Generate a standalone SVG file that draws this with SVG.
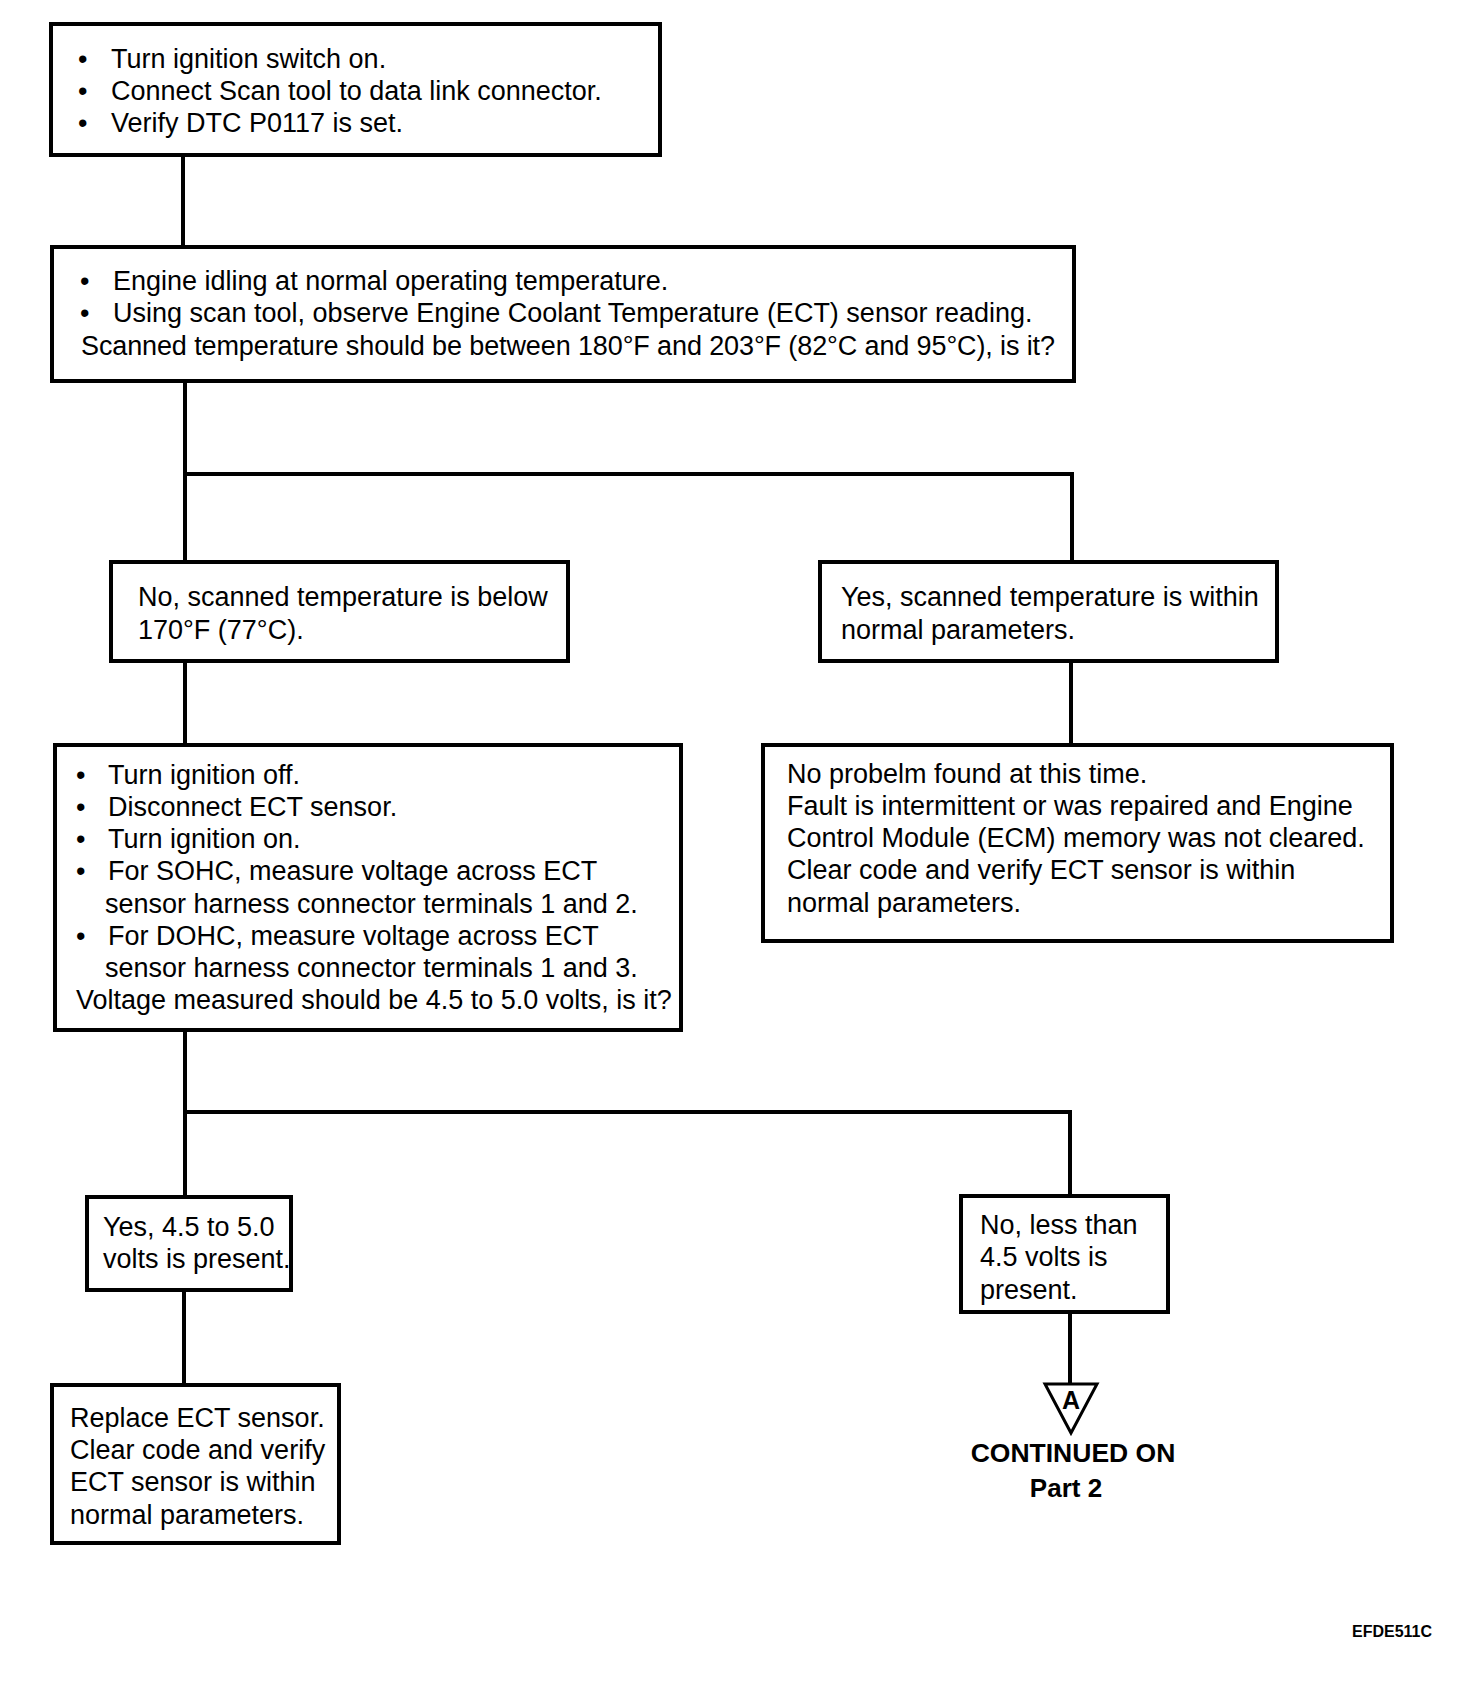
<svg xmlns="http://www.w3.org/2000/svg" width="1472" height="1686" viewBox="0 0 1472 1686">
<style>
.box{fill:#fff;stroke:#000;stroke-width:4}
.con{fill:none;stroke:#000;stroke-width:4}
.t{font-family:"Liberation Sans",Arial,sans-serif;font-size:27px;fill:#000}
.b{font-family:"Liberation Sans",Arial,sans-serif;font-weight:bold;fill:#000}
</style>
<rect width="1472" height="1686" fill="#fff"/>
<g id="connectors">
<path class="con" d="M183 157V245"/>
<path class="con" d="M185 383V560M185 474H1072V560"/>
<path class="con" d="M185 663V743"/>
<path class="con" d="M1071 663V743"/>
<path class="con" d="M185 1032V1195M185 1112H1070V1194"/>
<path class="con" d="M184 1292V1383"/>
<path class="con" d="M1070 1314V1384"/>
</g>
<g id="n1">
<rect class="box" x="51" y="24" width="609" height="131"/>
<text class="t"><tspan x="78" y="68">•</tspan><tspan x="111" y="68">Turn ignition switch on.</tspan><tspan x="78" y="100">•</tspan><tspan x="111" y="100">Connect Scan tool to data link connector.</tspan><tspan x="78" y="132">•</tspan><tspan x="111" y="132">Verify DTC P0117 is set.</tspan></text>
</g>
<g id="n2">
<rect class="box" x="52" y="247" width="1022" height="134"/>
<text class="t"><tspan x="80" y="290">•</tspan><tspan x="113" y="290">Engine idling at normal operating temperature.</tspan><tspan x="80" y="322">•</tspan><tspan x="113" y="322">Using scan tool, observe Engine Coolant Temperature (ECT) sensor reading.</tspan><tspan x="81" y="355" textLength="974">Scanned temperature should be between 180°F and 203°F (82°C and 95°C), is it?</tspan></text>
</g>
<g id="n3">
<rect class="box" x="111" y="562" width="457" height="99"/>
<text class="t"><tspan x="138" y="606">No, scanned temperature is below</tspan><tspan x="138" y="639">170°F (77°C).</tspan></text>
</g>
<g id="n4">
<rect class="box" x="820" y="562" width="457" height="99"/>
<text class="t"><tspan x="841" y="606">Yes, scanned temperature is within</tspan><tspan x="841" y="639">normal parameters.</tspan></text>
</g>
<g id="n5">
<rect class="box" x="55" y="745" width="626" height="285"/>
<text class="t"><tspan x="76" y="784">•</tspan><tspan x="108" y="784">Turn ignition off.</tspan><tspan x="76" y="816">•</tspan><tspan x="108" y="816">Disconnect ECT sensor.</tspan><tspan x="76" y="848">•</tspan><tspan x="108" y="848">Turn ignition on.</tspan><tspan x="76" y="880">•</tspan><tspan x="108" y="880">For SOHC, measure voltage across ECT</tspan><tspan x="105" y="913">sensor harness connector terminals 1 and 2.</tspan><tspan x="76" y="945">•</tspan><tspan x="108" y="945">For DOHC, measure voltage across ECT</tspan><tspan x="105" y="977">sensor harness connector terminals 1 and 3.</tspan><tspan x="76" y="1009">Voltage measured should be 4.5 to 5.0 volts, is it?</tspan></text>
</g>
<g id="n6">
<rect class="box" x="763" y="745" width="629" height="196"/>
<text class="t"><tspan x="787" y="783">No probelm found at this time.</tspan><tspan x="787" y="815">Fault is intermittent or was repaired and Engine</tspan><tspan x="787" y="847">Control Module (ECM) memory was not cleared.</tspan><tspan x="787" y="879">Clear code and verify ECT sensor is within</tspan><tspan x="787" y="912">normal parameters.</tspan></text>
</g>
<g id="n7">
<rect class="box" x="87" y="1197" width="204" height="93"/>
<text class="t"><tspan x="103" y="1236">Yes, 4.5 to 5.0</tspan><tspan x="103" y="1268">volts is present.</tspan></text>
</g>
<g id="n8">
<rect class="box" x="961" y="1196" width="207" height="116"/>
<text class="t"><tspan x="980" y="1234">No, less than</tspan><tspan x="980" y="1266">4.5 volts is</tspan><tspan x="980" y="1299">present.</tspan></text>
</g>
<g id="n9">
<rect class="box" x="52" y="1385" width="287" height="158"/>
<text class="t"><tspan x="70" y="1427">Replace ECT sensor.</tspan><tspan x="70" y="1459">Clear code and verify</tspan><tspan x="70" y="1491">ECT sensor is within</tspan><tspan x="70" y="1524">normal parameters.</tspan></text>
</g>
<g id="offpage">
<polygon points="1045,1384 1097,1384 1071,1433" fill="#fff" stroke="#000" stroke-width="3"/>
<text class="b" x="1071" y="1409" font-size="25" text-anchor="middle">A</text>
<text class="b" x="1073" y="1462" font-size="26.5" text-anchor="middle">CONTINUED ON</text>
<text class="b" x="1066" y="1497" font-size="26" text-anchor="middle">Part 2</text>
</g>
<text class="b" x="1352" y="1637" font-size="16">EFDE511C</text>
</svg>
